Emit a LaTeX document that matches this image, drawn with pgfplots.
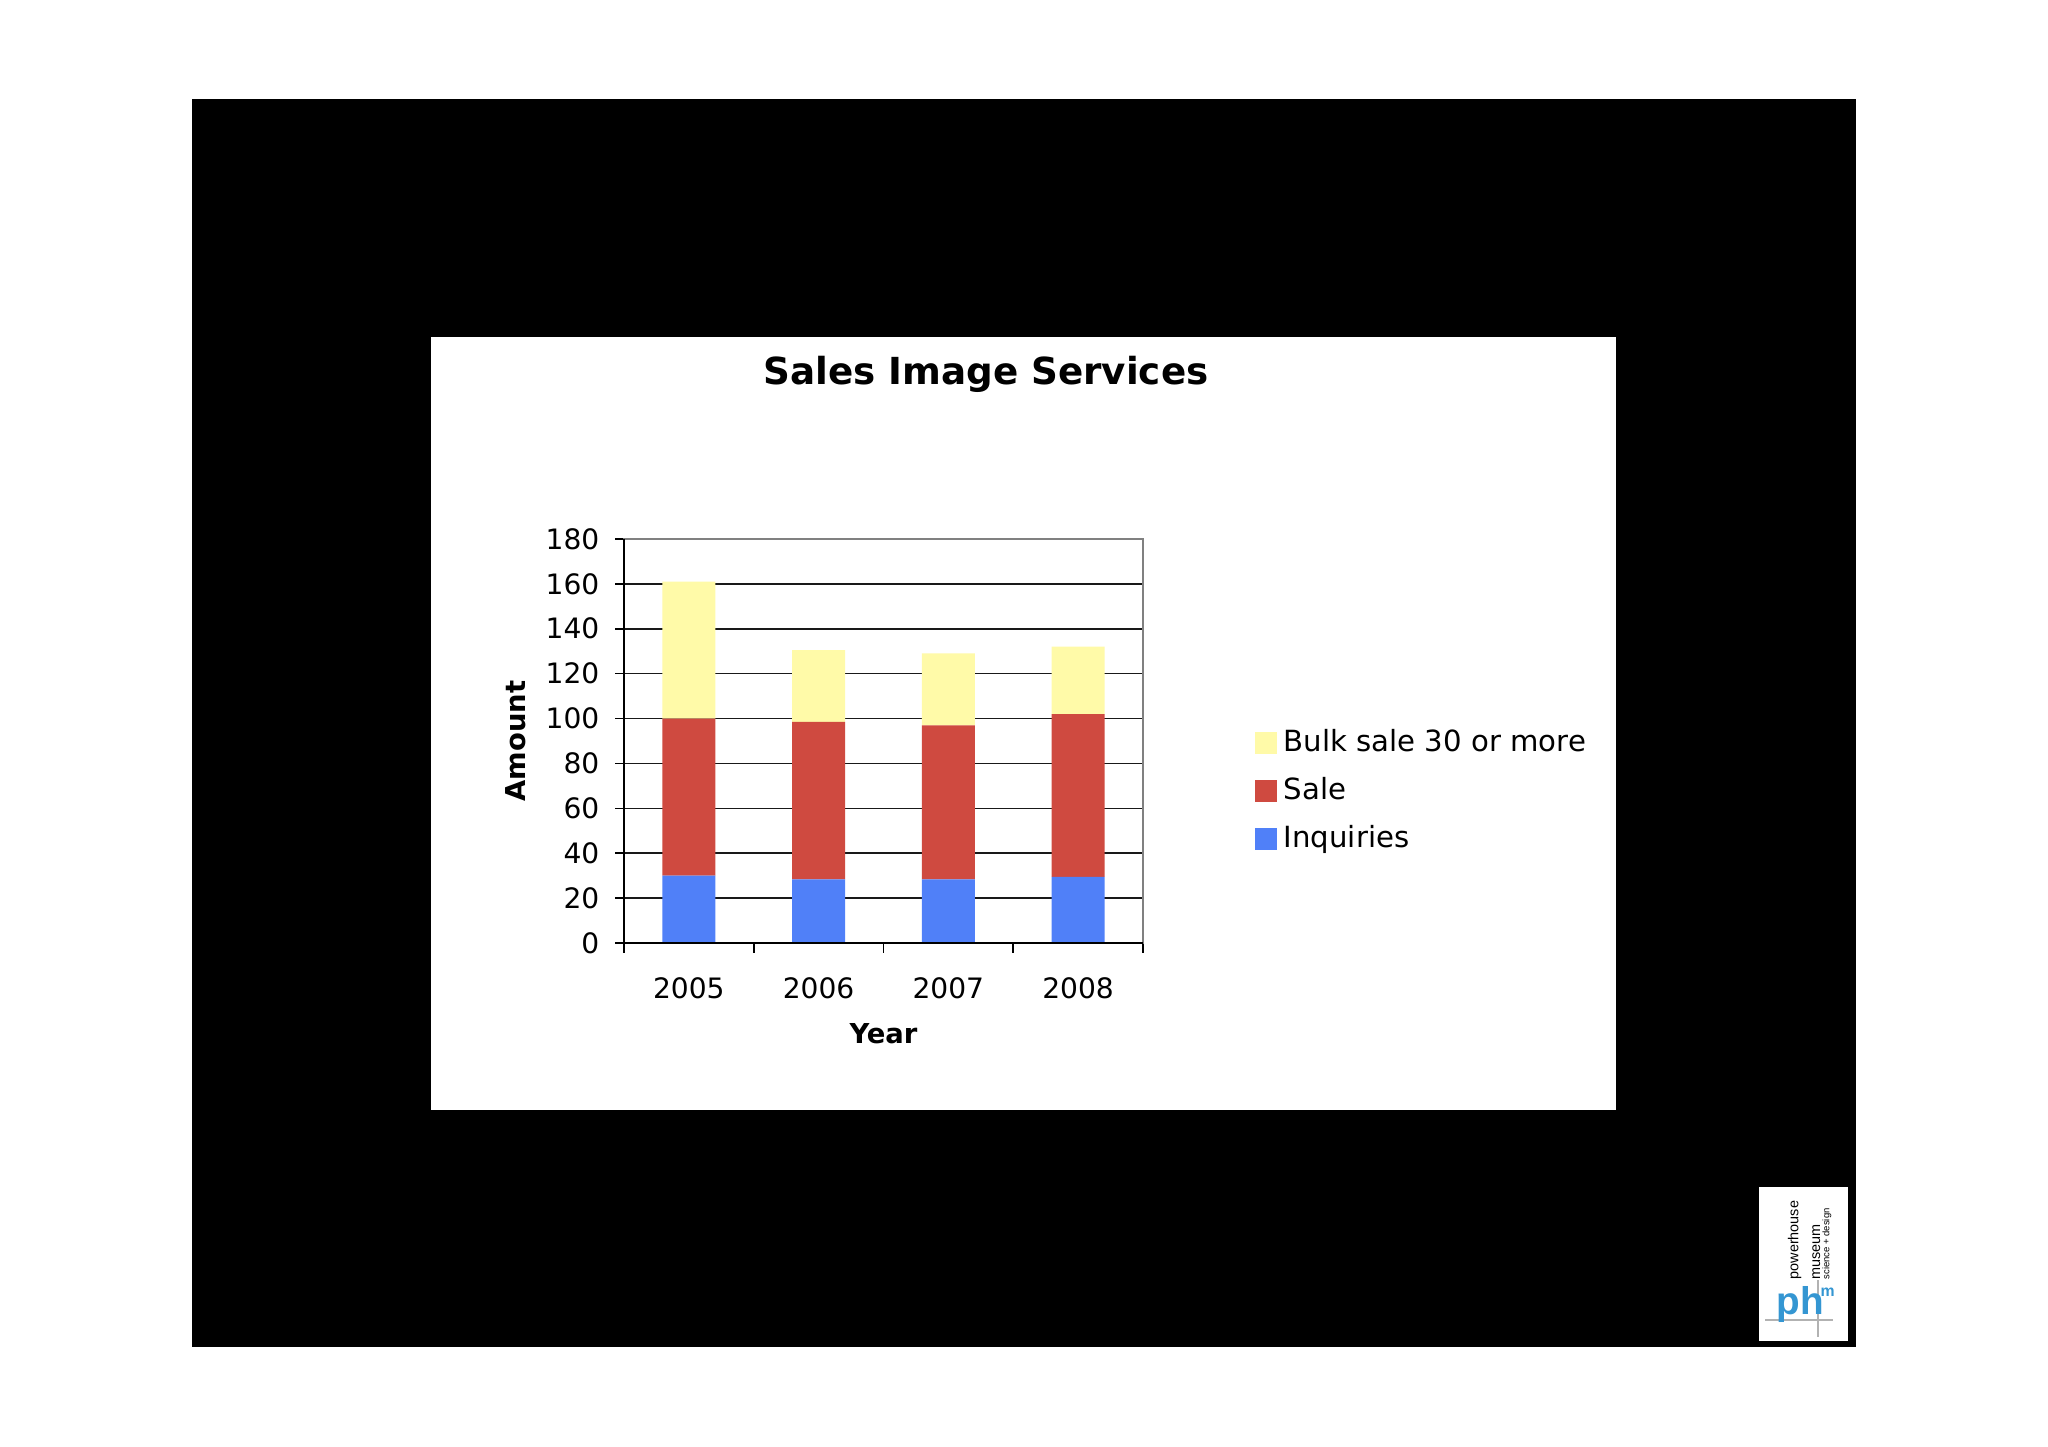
\documentclass[border=0pt]{standalone}
\usepackage{pgfplots}
\pgfplotsset{compat=1.18}
\usepackage{fontspec}
\setmainfont{DejaVu Sans}
\newfontfamily\logofont{Liberation Sans}
\definecolor{bulk}{RGB}{255,250,168}
\definecolor{sale}{RGB}{207,74,64}
\definecolor{inq}{RGB}{80,128,248}
\definecolor{logoblue}{RGB}{52,150,210}
\begin{document}
\begin{tikzpicture}
% page, black frame, white panel
\fill[white] (0,0) rectangle (20.48,14.47);
\fill[black] (1.92,1.00) rectangle (18.56,13.48);
\fill[white] (4.31,3.37) rectangle (16.16,11.10);
% title
\node[font=\fontsize{10.6}{12}\selectfont\bfseries] at (9.86,10.73) {Sales Image Services};
\begin{axis}[
  at={(6.24cm,5.04cm)}, anchor=south west,
  scale only axis, width=5.19cm, height=4.04cm,
  ybar stacked, bar width=0.41,
  xmin=-0.5, xmax=3.5, ymin=0, ymax=180,
  xtick={0,1,2,3}, xticklabels={2005,2006,2007,2008},
  minor xtick={-0.5,0.5,1.5,2.5,3.5},
  ytick={0,20,...,180},
  tick pos=left,
  tick align=outside,
  major tick length=0.09cm, minor tick length=0.1cm,
  major x tick style={draw=none},
  minor x tick style={black, line width=0.45pt},
  y tick style={black, line width=0.45pt},
  ymajorgrids, grid style={black!90, line width=0.45pt},
  axis line style={black!50, line width=0.6pt},
  /pgf/number format/assume math mode=true,
  ticklabel style={font=\fontsize{8}{9.6}\selectfont},
  xticklabel style={anchor=center, yshift=-0.36cm, inner sep=0pt},
  yticklabel style={anchor=east, inner sep=0pt, xshift=-0.15cm},
  xlabel={Year}, ylabel={Amount},
  label style={font=\fontsize{7.8}{9}\selectfont\bfseries},
  xlabel style={at={(axis description cs:0.5,-0.225)}, anchor=center},
  ylabel style={at={(axis description cs:-0.208,0.5)}, anchor=center},
  legend style={draw=none, fill=none, at={(1.214,0.375)}, anchor=west,
    inner sep=0pt, row sep=0.065cm, font=\fontsize{8.3}{10}\selectfont},
  legend cell align=left, reverse legend,
  legend image code/.code={\fill[#1] (0cm,-0.11cm) rectangle (0.22cm,0.11cm);},
  after end axis/.code={
    \draw[black, line width=0.6pt] (rel axis cs:0,1) -- (rel axis cs:0,0) -- (rel axis cs:1,0);
  },
]
\addplot[fill=inq, draw=none] coordinates {(0,30) (1,28.3) (2,28.3) (3,29.5)};
\addlegendentry{Inquiries}
\addplot[fill=sale, draw=none] coordinates {(0,70) (1,70.2) (2,68.7) (3,72.5)};
\addlegendentry{Sale}
\addplot[fill=bulk, draw=none] coordinates {(0,61) (1,32) (2,32) (3,30)};
\addlegendentry{Bulk sale 30 or more}
\end{axis}
% logo
\fill[white] (17.59,1.06) rectangle (18.48,2.60);
\draw[black!30, line width=0.3pt] (17.65,1.27) -- (18.33,1.27);
\draw[black!30, line width=0.3pt] (18.18,1.10) -- (18.18,1.67);
\node[font=\logofont\fontsize{4.1}{5}\selectfont, rotate=90, anchor=south west, inner sep=0pt] at (18.02,1.67) {powerhouse};
\node[font=\logofont\fontsize{4.1}{5}\selectfont, rotate=90, anchor=south west, inner sep=0pt] at (18.21,1.67) {museum};
\node[font=\logofont\fontsize{2.7}{3}\selectfont, rotate=90, anchor=south west, inner sep=0pt] at (18.32,1.67) {science + design};
\node[font=\logofont\fontsize{11}{12}\selectfont\bfseries, text=logoblue, anchor=base west, inner sep=0pt] at (17.76,1.32) {ph};
\node[font=\logofont\fontsize{4.5}{5}\selectfont\bfseries, text=logoblue, anchor=base west, inner sep=0pt] at (18.20,1.50) {m};
\end{tikzpicture}
\end{document}
